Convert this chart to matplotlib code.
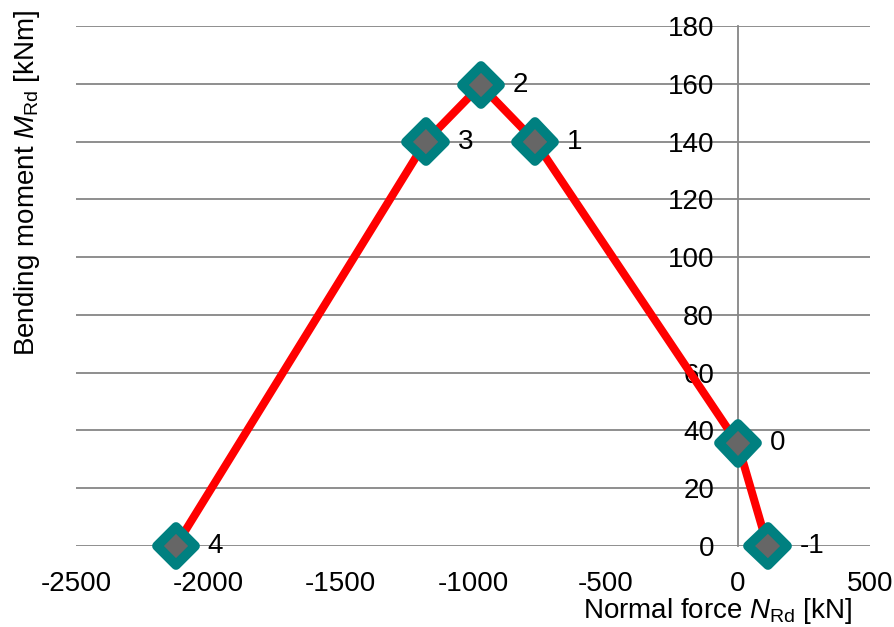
import matplotlib
matplotlib.use('Agg')
import matplotlib.pyplot as plt
import matplotlib.patheffects as pe
from matplotlib.markers import MarkerStyle

# data
normal_force = [-2123, -1179, -971, -765, 0, 113]   # kN
bending_moment = [0, 140, 159.5, 140, 35.5, 0]     # kNm
point_labels = ['4', '3', '2', '1', '0', '-1']
x_ticks = [-2500, -2000, -1500, -1000, -500, 0, 500]
y_ticks = [0, 20, 40, 60, 80, 100, 120, 140, 160, 180]

plt.rcParams['font.family'] = ['Liberation Sans', 'DejaVu Sans']
plt.rcParams['mathtext.fontset'] = 'custom'
plt.rcParams['mathtext.rm'] = 'Liberation Sans'
plt.rcParams['mathtext.it'] = 'Liberation Sans:italic'
plt.rcParams['axes.unicode_minus'] = False
plt.rcParams['font.size'] = 20

grid_col = '#868686'

fig = plt.figure(figsize=(8.95, 6.27), dpi=100)
ax = fig.add_axes([76 / 895, 81 / 627, 794 / 895, 520 / 627])

ax.plot(normal_force, bending_moment, color='red', lw=5.8, zorder=3,
        solid_capstyle='round', solid_joinstyle='round', clip_on=False)
diamond = MarkerStyle('D', joinstyle='round')
ax.plot(normal_force, bending_moment, ls='none', marker=diamond, ms=19.5,
        mfc='#666666', mec='#008080', mew=7, zorder=4, clip_on=False,
        path_effects=[pe.SimplePatchShadow(offset=(1.5, -2.5), shadow_rgbFace='k', alpha=0.2),
                      pe.Normal()])
for x, y, lab in zip(normal_force, bending_moment, point_labels):
    ax.annotate(lab, (x, y), xytext=(23, 0), textcoords='offset points',
                ha='left', va='center', fontsize=20, zorder=5)

ax.set_xlim(-2500, 500)
ax.set_ylim(0, 180)
ax.set_xticks(x_ticks)
ax.set_yticks(y_ticks)

# excel style: y axis sits at x = 0, only horizontal gridlines
for side in ['top', 'right', 'bottom']:
    ax.spines[side].set_visible(False)
ax.spines['left'].set_position(('data', 0))
ax.spines['left'].set_color(grid_col)
ax.spines['left'].set_linewidth(1.3)
ax.yaxis.grid(True, color=grid_col, lw=1.3)
ax.set_axisbelow(True)
ax.tick_params(axis='y', length=0, pad=17, labelsize=20)
ax.tick_params(axis='x', length=0, pad=18, labelsize=20)

fig.text(852 / 895, 9 / 627, r'Normal force $\mathit{N}_{\mathrm{Rd}}$ [kN]',
         ha='right', va='baseline', fontsize=20)
fig.text(27 / 895, 444 / 627, r'Bending moment $\mathit{M}_{\mathrm{Rd}}$ [kNm]',
         ha='center', va='center', rotation=90, fontsize=20)

fig.savefig('out.png', dpi=100)
